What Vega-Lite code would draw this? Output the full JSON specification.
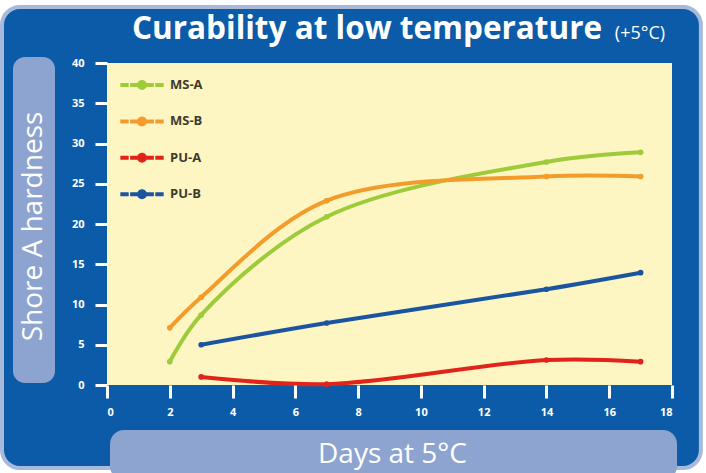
{
  "$schema": "https://vega.github.io/schema/vega-lite/v6.json",
  "width": 565,
  "height": 322,
  "autosize": {"type": "none"},
  "padding": {"left": 107, "top": 63, "right": 34, "bottom": 88},
  "background": "white",
  "view": {"stroke": null},
  "config": {
    "font": "Open Sans",
    "axis": {
      "grid": false,
      "domain": false,
      "tickColor": "white",
      "tickWidth": 3,
      "tickSize": 12,
      "labelColor": "white",
      "labelFont": "Open Sans",
      "labelFontWeight": "bold",
      "labelFontSize": 11,
      "titleColor": "white",
      "titleFont": "Open Sans",
      "titleFontWeight": "normal",
      "titleFontSize": 28
    }
  },
  "layer": [
    {
      "data": {"values": [{}]},
      "mark": {"type": "rect", "fill": "#0b5ba9", "stroke": "#a8b9da", "strokeWidth": 4, "cornerRadius": 18},
      "encoding": {
        "x": {"datum": -3.345, "type": "quantitative", "title": "Days at 5°C", "scale": {"domain": [0, 18], "nice": false, "zero": false}},
        "x2": {"datum": 18.92},
        "y": {"datum": 46.96, "type": "quantitative", "title": "Shore A hardness", "scale": {"domain": [0, 40], "nice": false, "zero": false}},
        "y2": {"datum": -10.31}
      }
    },
    {
      "data": {"values": [{}]},
      "mark": {"type": "rect", "fill": "#8ea4d0", "cornerRadius": 12},
      "encoding": {
        "x": {"datum": -2.995, "type": "quantitative", "title": "Days at 5°C"},
        "x2": {"datum": -1.657},
        "y": {"datum": 40.75, "type": "quantitative", "title": "Shore A hardness"},
        "y2": {"datum": 0.25}
      }
    },
    {
      "data": {"values": [{}]},
      "mark": {"type": "rect", "fill": "#8ea4d0", "cornerRadius": 14},
      "encoding": {
        "x": {"datum": 0.096, "type": "quantitative", "title": "Days at 5°C"},
        "x2": {"datum": 18.16},
        "y": {"datum": -5.59, "type": "quantitative", "title": "Shore A hardness"},
        "y2": {"datum": -11.8}
      }
    },
    {
      "data": {"values": [{}]},
      "mark": {"type": "rect", "fill": "#fdf6c3"},
      "encoding": {
        "x": {"datum": 0, "type": "quantitative", "title": "Days at 5°C"},
        "x2": {"datum": 18},
        "y": {"datum": 0, "type": "quantitative", "title": "Shore A hardness"},
        "y2": {"datum": 40}
      }
    },
    {
      "data": {"values": [{}]},
      "mark": {"type": "text", "text": "Curability at low temperature", "font": "Open Sans", "fontWeight": "bold", "fontSize": 31.5, "color": "white", "align": "left", "baseline": "alphabetic"},
      "encoding": {
        "x": {"datum": 0.796, "type": "quantitative", "title": "Days at 5°C"},
        "y": {"datum": 42.98, "type": "quantitative", "title": "Shore A hardness"}
      }
    },
    {
      "data": {"values": [{}]},
      "mark": {"type": "text", "text": "(+5°C)", "font": "Open Sans", "fontSize": 18, "color": "white", "align": "left", "baseline": "alphabetic", "letterSpacing": 0.7},
      "encoding": {
        "x": {"datum": 16.18, "type": "quantitative", "title": "Days at 5°C"},
        "y": {"datum": 42.98, "type": "quantitative", "title": "Shore A hardness"}
      }
    },
    {
      "data": {
        "values": [
          {"series": "MS-A", "day": 2, "hardness": 2.9},
          {"series": "MS-A", "day": 3, "hardness": 8.7},
          {"series": "MS-A", "day": 7, "hardness": 20.9},
          {"series": "MS-A", "day": 14, "hardness": 27.7},
          {"series": "MS-A", "day": 17, "hardness": 28.9},
          {"series": "MS-B", "day": 2, "hardness": 7.1},
          {"series": "MS-B", "day": 3, "hardness": 10.9},
          {"series": "MS-B", "day": 7, "hardness": 22.9},
          {"series": "MS-B", "day": 14, "hardness": 25.9},
          {"series": "MS-B", "day": 17, "hardness": 25.9},
          {"series": "PU-A", "day": 3, "hardness": 1.0},
          {"series": "PU-A", "day": 7, "hardness": 0.1},
          {"series": "PU-A", "day": 14, "hardness": 3.1},
          {"series": "PU-A", "day": 17, "hardness": 2.9},
          {"series": "PU-B", "day": 3, "hardness": 5.0},
          {"series": "PU-B", "day": 7, "hardness": 7.7},
          {"series": "PU-B", "day": 14, "hardness": 11.9},
          {"series": "PU-B", "day": 17, "hardness": 13.95}
        ]
      },
      "encoding": {
        "x": {
          "field": "day",
          "type": "quantitative",
          "title": "Days at 5°C",
          "axis": {
            "zindex": 2,
            "values": [0, 2, 4, 6, 8, 10, 12, 14, 16, 18],
            "tickSize": 13,
            "labelPadding": 8,
            "titleX": 285,
            "titleY": 77,
            "titleAnchor": null,
            "titleAlign": "center",
            "titleBaseline": "alphabetic"
          }
        },
        "y": {
          "field": "hardness",
          "type": "quantitative",
          "title": "Shore A hardness",
          "axis": {
            "zindex": 2,
            "values": [0, 5, 10, 15, 20, 25, 30, 35, 40],
            "tickSize": 12,
            "labelPadding": 11,
            "titleX": -74,
            "titleY": 163,
            "titleAngle": 270,
            "titleAlign": "center",
            "titleBaseline": "middle"
          }
        },
        "color": {
          "field": "series",
          "type": "nominal",
          "scale": {
            "domain": ["MS-A", "MS-B", "PU-A", "PU-B"],
            "range": ["#9dcb3a", "#f39c2b", "#e2231a", "#1b55a2"]
          },
          "legend": {
            "zindex": 2,
            "orient": "none",
            "legendX": 24,
            "legendY": 11,
            "title": null,
            "padding": 0,
            "symbolType": "M-1.97,-0.18H-1.21V0.18H-1.97Z M-1.08,-0.18H-0.3V0.18H-1.08Z M0.3,-0.18H1.08V0.18H0.3Z M1.21,-0.18H1.97V0.18H1.21Z M-0.45,0A0.45,0.45,0,1,1,0.45,0A0.45,0.45,0,1,1,-0.45,0Z",
            "symbolSize": 484,
            "symbolStrokeWidth": 0,
            "symbolOpacity": 1,
            "rowPadding": 18.4,
            "labelOffset": 17,
            "labelFont": "Open Sans",
            "labelFontWeight": "bold",
            "labelFontSize": 13,
            "labelColor": "#3d3b2b",
            "encode": {
              "symbols": {
                "update": {
                  "fill": {"scale": "color", "field": "value"},
                  "fillOpacity": {"value": 1},
                  "strokeWidth": {"value": 0}
                }
              }
            }
          }
        }
      },
      "layer": [
        {"mark": {"type": "line", "interpolate": "catmull-rom", "strokeWidth": 4}},
        {"mark": {"type": "point", "filled": true, "size": 32, "opacity": 1}}
      ]
    }
  ]
}
